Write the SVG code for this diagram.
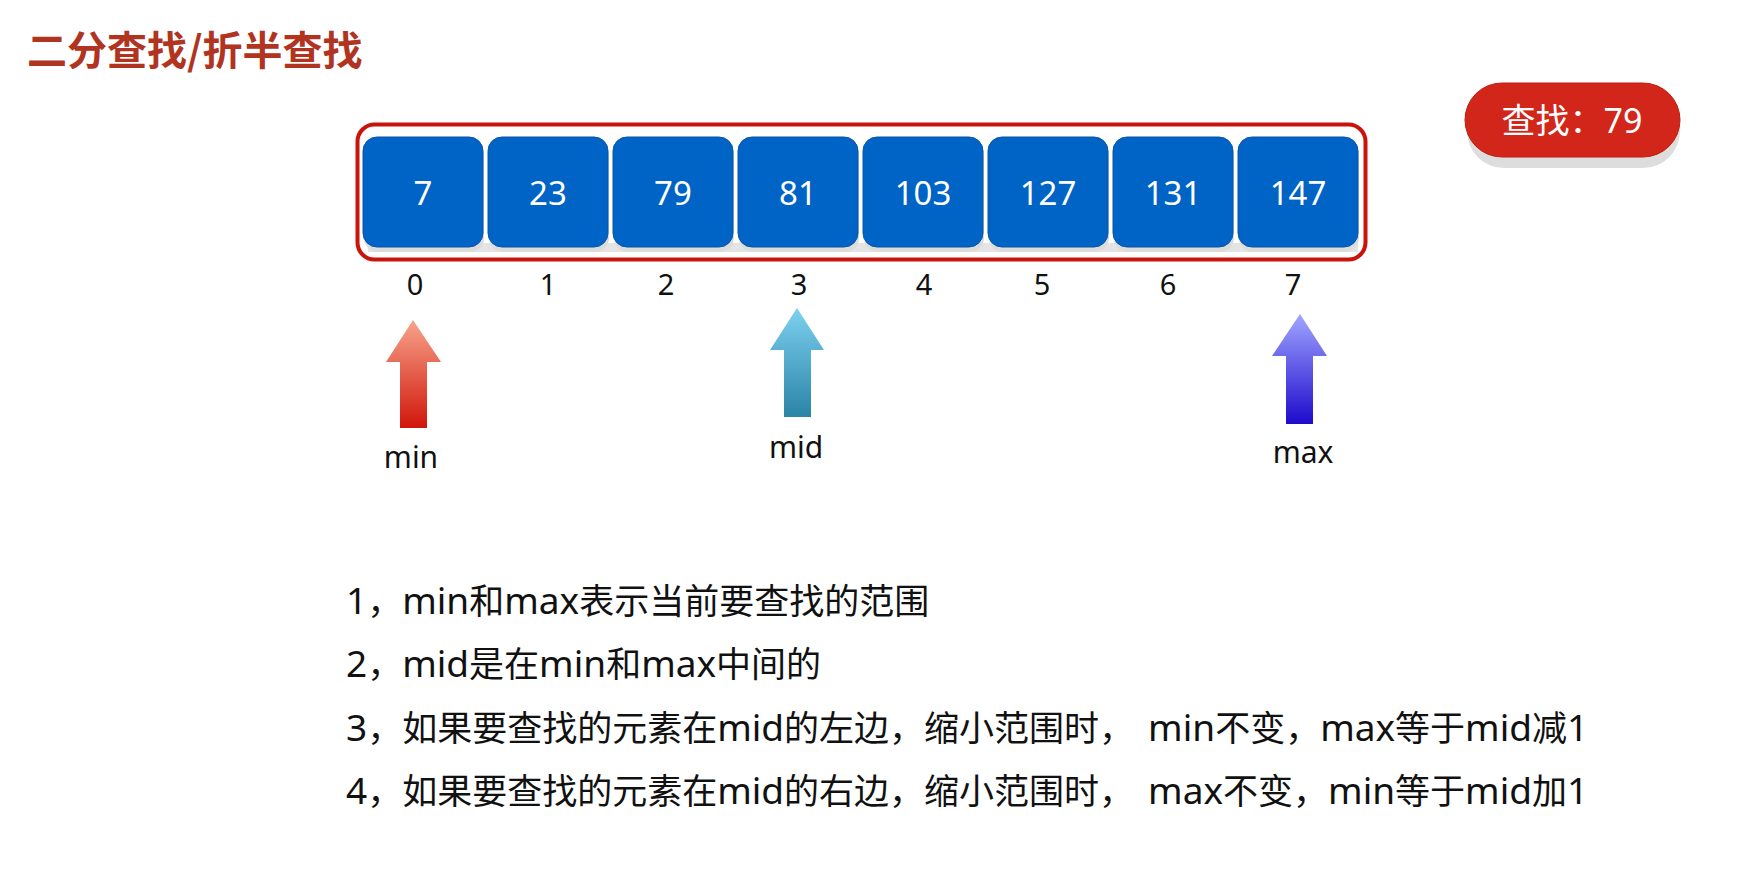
<svg xmlns="http://www.w3.org/2000/svg" width="1757" height="873" viewBox="0 0 1757 873">
<defs>
<style>
.t{font-family:"Noto Sans","Noto Sans CJK SC",sans-serif}
.title{font-family:"Noto Sans CJK SC","Noto Sans",sans-serif;font-weight:bold;font-size:40px;fill:#B0341F}
.cell{fill:#0063C6;stroke:#0A55A6;stroke-width:1}
.cellsh{fill:#DCDCDC}
.num{font-size:33px;fill:#FFFFFF;text-anchor:middle}
.idx{font-size:29px;fill:#111111;text-anchor:middle}
.lbl{font-size:30px;fill:#111111;text-anchor:middle}
.line{font-size:35px;fill:#111111}
.l{font-size:37px}
</style>
<linearGradient id="gMin" x1="0" y1="0" x2="0" y2="1">
<stop offset="0" stop-color="#F8A48C"/><stop offset="1" stop-color="#D0160A"/>
</linearGradient>
<linearGradient id="gMid" x1="0" y1="0" x2="0" y2="1">
<stop offset="0" stop-color="#7DD0F0"/><stop offset="1" stop-color="#2A84A6"/>
</linearGradient>
<linearGradient id="gMax" x1="0" y1="0" x2="0" y2="1">
<stop offset="0" stop-color="#A0A6FF"/><stop offset="1" stop-color="#1E0ACC"/>
</linearGradient>
</defs>
<rect width="1757" height="873" fill="#FFFFFF"/>

<text id="title" class="title" x="27" y="65">二分查找/折半查找</text>

<g id="target">
<rect x="1467" y="94" width="213" height="74" rx="37" fill="#DDDDDD"/>
<rect x="1465" y="83" width="215" height="74" rx="37" fill="#D3261A" stroke="#BE1D10" stroke-width="1"/>
<text class="t" x="1572" y="133" font-size="34" fill="#FFFFFF" text-anchor="middle">查找：79</text>
</g>

<g id="array">
<rect x="357.5" y="124.5" width="1008" height="135" rx="17" fill="#FFFFFF" stroke="#C8140A" stroke-width="4"/>
<rect x="368" y="243" width="990" height="9" fill="#E4E4E4"/>
</g>

<g id="cell0"><rect class="cellsh" x="364" y="142" width="120" height="110" rx="14"/><rect class="cell" x="363" y="137" width="120" height="110" rx="14"/><text class="t num" x="423" y="205">7</text></g>
<g id="cell1"><rect class="cellsh" x="489" y="142" width="120" height="110" rx="14"/><rect class="cell" x="488" y="137" width="120" height="110" rx="14"/><text class="t num" x="548" y="205">23</text></g>
<g id="cell2"><rect class="cellsh" x="614" y="142" width="120" height="110" rx="14"/><rect class="cell" x="613" y="137" width="120" height="110" rx="14"/><text class="t num" x="673" y="205">79</text></g>
<g id="cell3"><rect class="cellsh" x="739" y="142" width="120" height="110" rx="14"/><rect class="cell" x="738" y="137" width="120" height="110" rx="14"/><text class="t num" x="798" y="205">81</text></g>
<g id="cell4"><rect class="cellsh" x="864" y="142" width="120" height="110" rx="14"/><rect class="cell" x="863" y="137" width="120" height="110" rx="14"/><text class="t num" x="923" y="205">103</text></g>
<g id="cell5"><rect class="cellsh" x="989" y="142" width="120" height="110" rx="14"/><rect class="cell" x="988" y="137" width="120" height="110" rx="14"/><text class="t num" x="1048" y="205">127</text></g>
<g id="cell6"><rect class="cellsh" x="1114" y="142" width="120" height="110" rx="14"/><rect class="cell" x="1113" y="137" width="120" height="110" rx="14"/><text class="t num" x="1173" y="205">131</text></g>
<g id="cell7"><rect class="cellsh" x="1239" y="142" width="120" height="110" rx="14"/><rect class="cell" x="1238" y="137" width="120" height="110" rx="14"/><text class="t num" x="1298" y="205">147</text></g>

<g id="indices">
<text class="t idx" x="415" y="295">0</text>
<text class="t idx" x="548" y="295">1</text>
<text class="t idx" x="666" y="295">2</text>
<text class="t idx" x="799" y="295">3</text>
<text class="t idx" x="924" y="295">4</text>
<text class="t idx" x="1042" y="295">5</text>
<text class="t idx" x="1168" y="295">6</text>
<text class="t idx" x="1293" y="295">7</text>
</g>

<g id="pointer-min">
<polygon points="413,320 441,362 427,362 427,428 400,428 400,362 386,362" fill="url(#gMin)"/>
<text class="t lbl" x="411" y="468">min</text>
</g>
<g id="pointer-mid">
<polygon points="797,308 824,350 811,350 811,417 784,417 784,350 770,350" fill="url(#gMid)"/>
<text class="t lbl" x="796" y="458">mid</text>
</g>
<g id="pointer-max">
<polygon points="1300,314 1327,356 1313,356 1313,424 1286,424 1286,356 1272,356" fill="url(#gMax)"/>
<text class="t lbl" x="1303" y="463">max</text>
</g>

<g id="notes">
<text class="t line" x="346" y="614"><tspan class="l">1</tspan>，<tspan class="l">min</tspan>和<tspan class="l">max</tspan>表示当前要查找的范围</text>
<text class="t line" x="346" y="677"><tspan class="l">2</tspan>，<tspan class="l">mid</tspan>是在<tspan class="l">min</tspan>和<tspan class="l">max</tspan>中间的</text>
<text class="t line" x="346" y="741"><tspan class="l">3</tspan>，如果要查找的元素在<tspan class="l">mid</tspan>的左边，缩小范围时，<tspan class="l" dx="14">min</tspan>不变，<tspan class="l">max</tspan>等于<tspan class="l">mid</tspan>减<tspan class="l">1</tspan></text>
<text class="t line" x="346" y="804"><tspan class="l">4</tspan>，如果要查找的元素在<tspan class="l">mid</tspan>的右边，缩小范围时，<tspan class="l" dx="14">max</tspan>不变，<tspan class="l">min</tspan>等于<tspan class="l">mid</tspan>加<tspan class="l">1</tspan></text>
</g>

<g id="connectors"></g>
</svg>
